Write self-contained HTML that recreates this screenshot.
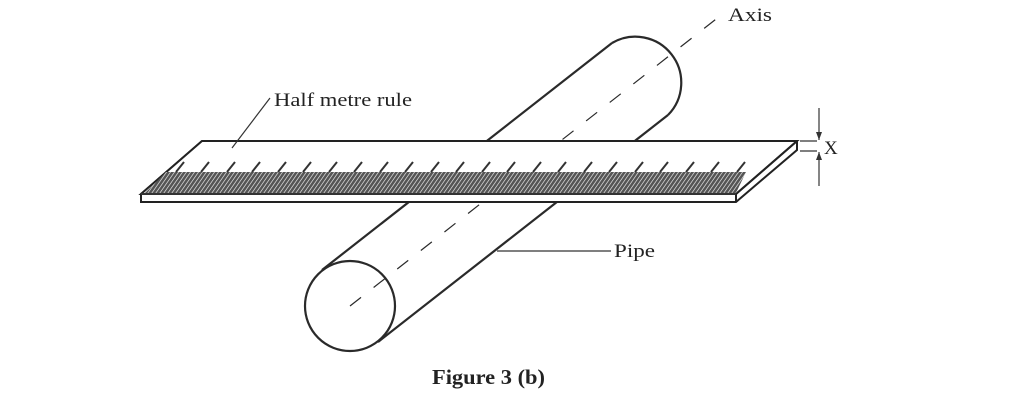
<!DOCTYPE html>
<html><head><meta charset="utf-8"><style>
html,body{margin:0;padding:0;background:#fff;}
svg{display:block;}
text{font-family:"Liberation Serif",serif;fill:#222;}
</style></head><body>
<svg width="1030" height="402" viewBox="0 0 1030 402" xmlns="http://www.w3.org/2000/svg">
<defs>
<pattern id="h" width="4" height="20" patternUnits="userSpaceOnUse" patternTransform="skewX(-35)">
<rect width="4" height="20" fill="#555"/>
<line x1="3" y1="0" x2="3" y2="20" stroke="#ddd" stroke-width="0.9"/>
</pattern>
</defs>
<g stroke="#2a2a2a" fill="none" stroke-width="2.2">
<line x1="322" y1="270" x2="612" y2="43"/>
<line x1="378" y1="342" x2="668" y2="115"/>
<path d="M612 43 A46 46 0 0 1 668 115"/>
<circle cx="350" cy="306" r="45" fill="#fff"/>
<line x1="350" y1="306" x2="720" y2="16" stroke-width="1.2" stroke-dasharray="14 16"/>
</g>
<g stroke="#222" stroke-width="2">
<polygon points="202,141 797,141 797,150 736,202 141,202 141,194" fill="#fff"/>
<polygon points="202,141 797,141 736,194 141,194" fill="#fff"/>
<line x1="736" y1="194" x2="797" y2="141"/>
<line x1="736" y1="194" x2="736" y2="202"/>
</g>
<polygon points="166,172 746,172 736,193 145,193" fill="url(#h)"/>
<g stroke="#333" stroke-width="2">
<line x1="141" y1="194" x2="736" y2="194"/>
</g>
<g stroke="#333" stroke-width="1.2" fill="none">
<line x1="270" y1="98" x2="232" y2="148"/>
<line x1="497" y1="251" x2="611" y2="251"/>
<line x1="800" y1="141" x2="817" y2="141"/>
<line x1="800" y1="151" x2="817" y2="151"/>
<line x1="819" y1="108" x2="819" y2="140"/>
<line x1="819" y1="152" x2="819" y2="186"/>
</g>
<polygon points="816,132 822,132 819,140" fill="#333"/>
<polygon points="816,160 822,160 819,152" fill="#333"/>
<text x="274" y="106" font-size="19" textLength="138" lengthAdjust="spacingAndGlyphs">Half metre rule</text>
<text x="728" y="21" font-size="19" textLength="44" lengthAdjust="spacingAndGlyphs">Axis</text>
<text x="614" y="257" font-size="19" textLength="41" lengthAdjust="spacingAndGlyphs">Pipe</text>
<text x="824" y="154" font-size="19">X</text>
<text x="432" y="384" font-size="21" font-weight="bold" textLength="113" lengthAdjust="spacingAndGlyphs">Figure 3 (b)</text>
<g stroke="#333" stroke-width="2">
<line x1="176" y1="172" x2="184" y2="162"/><line x1="201" y1="172" x2="209" y2="162"/><line x1="227" y1="172" x2="235" y2="162"/><line x1="252" y1="172" x2="260" y2="162"/><line x1="278" y1="172" x2="286" y2="162"/><line x1="303" y1="172" x2="311" y2="162"/><line x1="329" y1="172" x2="337" y2="162"/><line x1="354" y1="172" x2="362" y2="162"/><line x1="380" y1="172" x2="388" y2="162"/><line x1="405" y1="172" x2="413" y2="162"/><line x1="431" y1="172" x2="439" y2="162"/><line x1="456" y1="172" x2="464" y2="162"/><line x1="482" y1="172" x2="490" y2="162"/><line x1="507" y1="172" x2="515" y2="162"/><line x1="533" y1="172" x2="541" y2="162"/><line x1="558" y1="172" x2="566" y2="162"/><line x1="584" y1="172" x2="592" y2="162"/><line x1="609" y1="172" x2="617" y2="162"/><line x1="635" y1="172" x2="643" y2="162"/><line x1="660" y1="172" x2="668" y2="162"/><line x1="686" y1="172" x2="694" y2="162"/><line x1="711" y1="172" x2="719" y2="162"/><line x1="737" y1="172" x2="745" y2="162"/>
</g>
</svg>
</body></html>
